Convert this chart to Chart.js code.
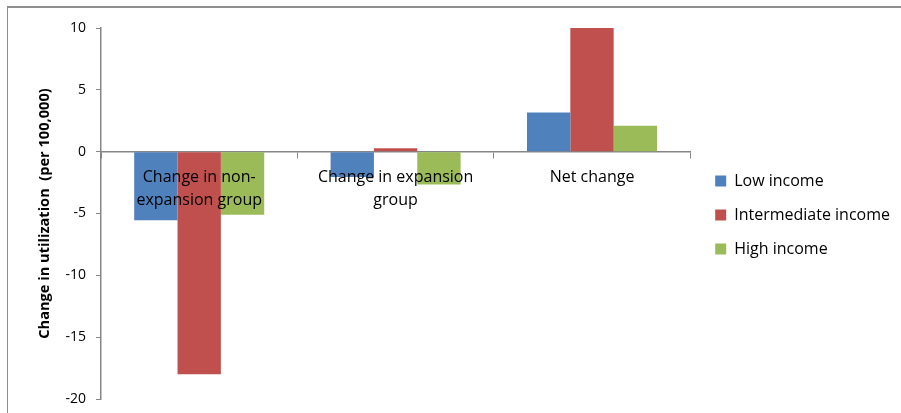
<!DOCTYPE html>
<html>
<head>
<meta charset="utf-8">
<script src="https://cdn.jsdelivr.net/npm/chart.js@4/dist/chart.umd.min.js"></script>
<style>
  html, body { margin: 0; padding: 0; background: #fff; }
  #wrap { position: relative; width: 901px; height: 413px; }
  #frame {
    position: absolute; left: 7px; top: 6px; width: 1000px; height: 500px;
    border-top: 2px solid #8e8e8e; border-left: 1px solid #8e8e8e;
    pointer-events: none;
  }
</style>
</head>
<body>
<div id="wrap">
  <canvas id="chart" width="901" height="413"></canvas>
  <div id="frame"></div>
</div>
<script>
  const categories = [
    ["Change in non-", "expansion group"],
    ["Change in expansion", "group"],
    "Net change",
  ];
  const seriesNames = ["Low income", "Intermediate income", "High income"];
  const lowIncome = [-5.55, -2.05, 3.17];
  const intermediateIncome = [-18.0, 0.28, 10.1];
  const highIncome = [-5.1, -2.65, 2.09];
  const seriesColors = ["#4F81BD", "#C0504D", "#9BBB59"];

  const axisColor = "#868686";
  const fontFamily = "'Open Sans', Lato, sans-serif";

  const data = {
    labels: categories,
    datasets: [lowIncome, intermediateIncome, highIncome].map((values, i) => ({
      label: seriesNames[i],
      data: values,
      backgroundColor: seriesColors[i],
      borderWidth: 0,
      categoryPercentage: 0.662,
      barPercentage: 1,
    })),
  };

  // nudge the legend a bit away from the plot, like the original
  const legendShift = {
    id: "legendShift",
    afterLayout(chart) {
      chart.legend.left += 7;
      chart.legend.right += 7;
      chart.legend.top += 1.5;
      chart.legend.bottom += 1.5;
    },
  };

  const options = {
    responsive: false,
    animation: false,
    layout: {
      padding: { left: 36, top: 28, bottom: 14, right: 8 },
    },
    plugins: {
      tooltip: { enabled: false },
      legend: {
        position: "right",
        labels: {
          boxWidth: 11,
          boxHeight: 11,
          padding: 18,
          color: "#000",
          font: { family: fontFamily, size: 16 },
        },
      },
    },
    scales: {
      x: {
        position: { y: 0 },
        grid: {
          drawOnChartArea: false,
          drawTicks: true,
          tickLength: 6,
          color: axisColor,
          offset: true,
        },
        border: { color: axisColor, width: 1.5 },
        ticks: {
          z: 1,
          color: "#000",
          padding: 8,
          maxRotation: 0,
          autoSkip: false,
          font: { family: fontFamily, size: 16, lineHeight: 1.45 },
        },
      },
      y: {
        min: -20,
        max: 10,
        ticks: {
          stepSize: 5,
          color: "#000",
          padding: 10,
          font: { family: fontFamily, size: 14 },
        },
        grid: {
          drawOnChartArea: false,
          tickLength: 5,
          color: axisColor,
        },
        border: { color: axisColor, width: 1.5 },
        title: {
          display: true,
          text: "Change in utilization  (per 100,000)",
          color: "#000",
          padding: { top: 0, bottom: 0 },
          font: { family: fontFamily, size: 14.6, weight: "bold" },
        },
        afterFit: (scale) => {
          scale.width = 101 - 36;
          scale.paddingTop = 0;
          scale.paddingBottom = 0;
        },
      },
    },
  };

  new Chart(document.getElementById("chart").getContext("2d"), {
    type: "bar",
    data: data,
    options: options,
    plugins: [legendShift],
  });
</script>
</body>
</html>
